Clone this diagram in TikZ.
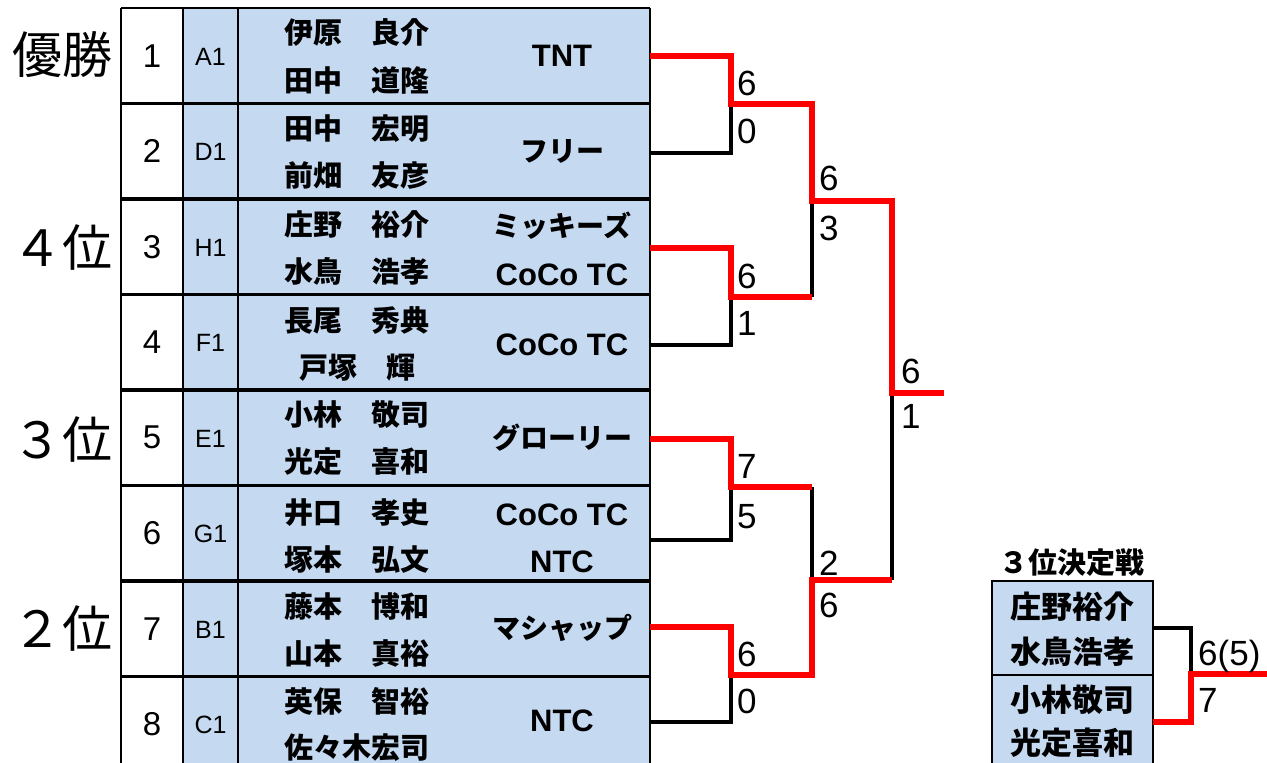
\documentclass[tikz,border=0pt]{standalone}
\usepackage{fontspec}
\usepackage{tikz}
\setmainfont{Liberation Sans}
\newfontfamily\jp{Noto Sans CJK JP}
\definecolor{cellblue}{HTML}{C5D9F1}
\definecolor{winred}{HTML}{FF0000}

\begin{document}
\begin{tikzpicture}[x=1pt, y=-1pt,
    grid/.style={line width=2.2pt},
    pairline/.style={line width=3.5pt},
    rank/.style={font=\jp\fontsize{50}{50}\selectfont, anchor=east, inner sep=0pt},
    num/.style={font=\fontsize{33}{33}\selectfont, inner sep=0pt},
    code/.style={font=\fontsize{25}{25}\selectfont, inner sep=0pt},
    player/.style={font=\jp\bfseries\fontsize{29}{29}\selectfont, inner sep=0pt},
    club/.style={font=\bfseries\fontsize{31}{31}\selectfont, inner sep=0pt},
    clubjp/.style={font=\jp\bfseries\fontsize{28}{28}\selectfont, inner sep=0pt},
    score/.style={font=\fontsize{35}{35}\selectfont, anchor=base west, inner sep=0pt},
    win/.style={winred, line width=6pt},
    lose/.style={black, line width=4pt}]
    \clip (0,0) rectangle (1267,763);
    % table
    \fill[white] (121,8) rectangle (183,800);
    \fill[cellblue] (183,8) rectangle (650,800);
    \draw[grid] (121,8) -- (650,8) (121,103.5) -- (650,103.5) (121,294.5) -- (650,294.5) (121,485.5) -- (650,485.5) (121,676.5) -- (650,676.5)
        (121,8) -- (121,800) (183,8) -- (183,800) (238,8) -- (238,800) (650,8) -- (650,800);
    \draw[pairline] (121,199) -- (650,199) (121,390) -- (650,390) (121,581) -- (650,581);

    \node[rank] (champ) at (113,55) {優勝};
    \node[rank] (fourth) at (113,247) {４位};
    \node[rank] (third) at (113,439) {３位};
    \node[rank] (second) at (113,628) {２位};

    \node[num] (n1) at (152,55.75) {1};   \node[code] (c1) at (210.5,56.5) {A1};
    \node[num] (n2) at (152,151.25) {2};  \node[code] (c2) at (210.5,152) {D1};
    \node[num] (n3) at (152,246.75) {3};  \node[code] (c3) at (210.5,247.5) {H1};
    \node[num] (n4) at (152,342.25) {4};  \node[code] (c4) at (210.5,343) {F1};
    \node[num] (n5) at (152,437.75) {5};  \node[code] (c5) at (210.5,438.5) {E1};
    \node[num] (n6) at (152,533.25) {6};  \node[code] (c6) at (210.5,534) {G1};
    \node[num] (n7) at (152,628.75) {7};  \node[code] (c7) at (210.5,629.5) {B1};
    \node[num] (n8) at (152,724.25) {8};  \node[code] (c8) at (210.5,725) {C1};

    \node[player] (p1a) at (357,33) {伊原　良介};   \node[player] (p1b) at (357,80) {田中　道隆};
    \node[player] (p2a) at (357,128.5) {田中　宏明}; \node[player] (p2b) at (357,175.5) {前畑　友彦};
    \node[player] (p3a) at (357,224) {庄野　裕介};   \node[player] (p3b) at (357,271) {水鳥　浩孝};
    \node[player] (p4a) at (357,320) {長尾　秀典};   \node[player] (p4b) at (357,368) {戸塚　輝};
    \node[player] (p5a) at (357,415) {小林　敬司};   \node[player] (p5b) at (357,462) {光定　喜和};
    \node[player] (p6a) at (357,513) {井口　孝史};   \node[player] (p6b) at (357,560) {塚本　弘文};
    \node[player] (p7a) at (357,606) {藤本　博和};   \node[player] (p7b) at (357,653) {山本　真裕};
    \node[player] (p8a) at (357,701) {英保　智裕};   \node[player] (p8b) at (357,748) {佐々木宏司};

    \node[club] (t1) at (562,55.5) {TNT};
    \node[clubjp] (t2) at (562,151) {フリー};
    \node[clubjp] (t3a) at (562,226) {ミッキーズ};
    \node[club] (t3b) at (562,275) {CoCo TC};
    \node[club] (t4) at (562,345) {CoCo TC};
    \node[clubjp] (t5) at (562,438) {グローリー};
    \node[club] (t6a) at (562,515) {CoCo TC};
    \node[club] (t6b) at (562,562) {NTC};
    \node[clubjp] (t7) at (562,628) {マシャップ};
    \node[club] (t8) at (562,721) {NTC};

    % bracket
    \coordinate (e1) at (650,56);  \coordinate (e2) at (650,153);
    \coordinate (e3) at (650,248); \coordinate (e4) at (650,345);
    \coordinate (e5) at (650,439); \coordinate (e6) at (650,540);
    \coordinate (e7) at (650,627); \coordinate (e8) at (650,722);
    \coordinate (m1) at (731,104); \coordinate (m2) at (731,297);
    \coordinate (m3) at (731,487); \coordinate (m4) at (731,675);
    \coordinate (s1) at (812,201); \coordinate (s2) at (812,580);
    \coordinate (f) at (892,393);  \coordinate (w) at (944,393);

    \draw[lose] (e2) -| (m1) (e4) -| (m2) (e6) -| (m3) (e8) -| (m4)
        (m2 -| s1) -- (s1) (m3 -| s2) -- (s2) (s2 -| f) -- (f);
    \draw[win] (e1) -| (m1) -| (s1) -| (f) -- (w);
    \draw[win] (e3) -| (m2) -- (m2 -| s1);
    \draw[win] (e5) -| (m3) -- (m3 -| s2);
    \draw[win] (e7) -| (m4) -| (s2) -- (s2 -| f);

    \path (m1) ++(6,-9) node[score] (sc1a) {6} (m1) ++(6,39) node[score] (sc1b) {0};
    \path (m2) ++(6,-9) node[score] (sc2a) {6} (m2) ++(6,38) node[score] (sc2b) {1};
    \path (m3) ++(6,-9) node[score] (sc3a) {7} (m3) ++(6,41) node[score] (sc3b) {5};
    \path (m4) ++(6,-9) node[score] (sc4a) {6} (m4) ++(6,38) node[score] (sc4b) {0};
    \path (s1) ++(7,-11) node[score] (ss1a) {6} (s1) ++(7,39) node[score] (ss1b) {3};
    \path (s2) ++(7,-5) node[score] (ss2a) {2} (s2) ++(7,37) node[score] (ss2b) {6};
    \path (f) ++(9,-10) node[score] (sfa) {6} (f) ++(9,35) node[score] (sfb) {1};

    % 3rd place
    \fill[cellblue] (992,581) rectangle (1153,800);
    \draw[grid] (992,800) -- (992,581) -- (1153,581) -- (1153,800) (992,675) -- (1153,675);
    \node[player] (tptitle) at (1072,563) {３位決定戦};
    \node[player, font=\jp\bfseries\fontsize{31}{31}\selectfont] (tp1a) at (1072,607) {庄野裕介};
    \node[player, font=\jp\bfseries\fontsize{31}{31}\selectfont] (tp1b) at (1072,652) {水鳥浩孝};
    \node[player, font=\jp\bfseries\fontsize{31}{31}\selectfont] (tp2a) at (1072,700) {小林敬司};
    \node[player, font=\jp\bfseries\fontsize{31}{31}\selectfont] (tp2b) at (1072,743) {光定喜和};
    \coordinate (b1) at (1153,628); \coordinate (b2) at (1153,722);
    \coordinate (tj) at (1191,674); \coordinate (tw) at (1270,674);
    \draw[lose] (b1) -| (tj);
    \draw[win] (b2) -| (tj) -- (tw);
    \path (tj) ++(7,-9) node[score] (tsa) {6(5)} (tj) ++(7,38) node[score] (tsb) {7};
\end{tikzpicture}
\end{document}
